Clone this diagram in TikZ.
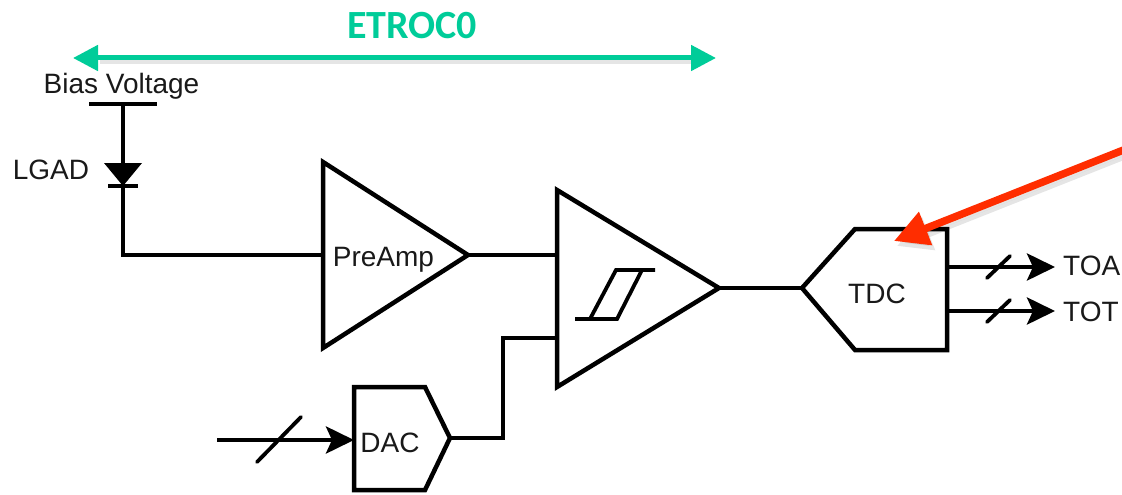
\documentclass[tikz,border=0pt]{standalone}
\usepackage{fontspec}
\setmainfont{Liberation Sans}
\newfontfamily\titlefont{Carlito}
\usetikzlibrary{arrows.meta,calc}
\definecolor{etrocgreen}{RGB}{0,204,153}
\definecolor{pointerred}{RGB}{255,45,0}
\tikzset{
    wire/.style={draw=black, line width=4.5pt, line join=miter},
    bus/.style={wire, -{Stealth[length=28pt,width=27pt,inset=6pt]}},
    slash/.style={draw=black, line width=3.8pt, line cap=round},
    label/.style={inner sep=0pt, font=\fontsize{28}{28}\selectfont, text=black!90},
    pointer/.style={draw=pointerred, fill=pointerred, line width=7.5pt, -{Triangle[length=34pt,width=34pt]}},
    shade/.style={draw=black, fill=black, opacity=0.10, line width=7.5pt, -{Triangle[length=34pt,width=34pt]}, transform canvas={shift={(3pt,-5pt)}}},
    span/.style={draw=etrocgreen, fill=etrocgreen, line width=5pt, {Triangle[length=25pt,width=25pt]}-{Triangle[length=25pt,width=25pt]}}
}
\begin{document}
\begin{tikzpicture}[x=1pt, y=-1pt]
    \useasboundingbox (0,0) rectangle (1122,495);
    % amplifier and comparator
    \draw[wire] (323,162) -- (468,255) -- (323,348) -- cycle;
    \draw[wire] (557,190) -- (719,288) -- (557,387) -- cycle;
    \coordinate (preIn) at (323,255);
    \coordinate (preOut) at (468,255);
    \coordinate (cmpIn) at (557,255);
    \coordinate (cmpRef) at (557,338);
    \coordinate (cmpOut) at (719,288);
    \node[label] (preamp) at (383.5,260) {PreAmp};
    \draw[wire, line width=3.8pt] (575,319) -- (617,319) -- (642,270) -- (655,270);
    \draw[wire, line width=3.8pt] (590,319) -- (616,270) -- (642,270);
    % detector
    \node[label] (bias) at (121.5,86) {Bias Voltage};
    \node[label] (lgad) at (51,170) {LGAD};
    \coordinate (biasTop) at (123,104);
    \coordinate (diodeTop) at (123,164);
    \coordinate (diodeEnd) at (123,186);
    \draw[wire] (89,104) -- (157,104);
    \draw[wire] (biasTop) -- (diodeTop);
    \fill[black] (104,163) -- (142,163) -- (123,186) -- cycle;
    \draw[wire] (108,186) -- (138,186);
    \draw[wire] (diodeEnd) |- (preIn);
    \draw[wire] (preOut) -- (cmpIn);
    % converters
    \draw[wire] (354,387) -- (425,387) -- (450,438) -- (425,490) -- (354,490) -- cycle;
    \node[label] (dac) at (390,443) {DAC};
    \coordinate (dacIn) at (354,440);
    \coordinate (dacOut) at (450,438);
    \coordinate (dacSrc) at (217,440);
    \draw[wire] (802,288) -- (855,229) -- (947,229) -- (947,350) -- (855,350) -- cycle;
    \node[label] (tdc) at (877,294) {TDC};
    \coordinate (tdcIn) at (802,288);
    \draw[wire] (cmpOut) -- (tdcIn);
    \draw[wire] (dacOut) -- (503,438) -- (503,338) -- (cmpRef);
    \draw[bus] (dacSrc) -- (dacIn);
    \draw[slash] (257,462) -- (301,417);
    % outputs
    \node[label, anchor=west] (toa) at (1063,266) {TOA};
    \node[label, anchor=west] (tot) at (1063,312) {TOT};
    \draw[bus, shorten >=8pt] (947,267) -- (947,267 -| toa.west);
    \draw[bus, shorten >=8pt] (947,311) -- (947,311 -| tot.west);
    \draw[slash] (987,278) -- (1010,256);
    \draw[slash] (987,322) -- (1010,300);
    % annotations
    \node[font=\titlefont\bfseries\fontsize{40}{40}\selectfont, text=etrocgreen, inner sep=0pt] (etroc) at (412,26) {ETROC0};
    \coordinate (spanL) at (73,58);
    \coordinate (spanR) at (716,58);
    \draw[draw=black, opacity=0.10, line width=6pt, transform canvas={shift={(2pt,-3pt)}}] (98,58) -- (690,58);
    \draw[span] (spanL) -- (spanR);
    \coordinate (ptrStart) at (1126,149);
    \coordinate (ptrEnd) at (894,241);
    \draw[shade] (ptrStart) -- (ptrEnd);
    \draw[pointer] (ptrStart) -- (ptrEnd);
\end{tikzpicture}
\end{document}
